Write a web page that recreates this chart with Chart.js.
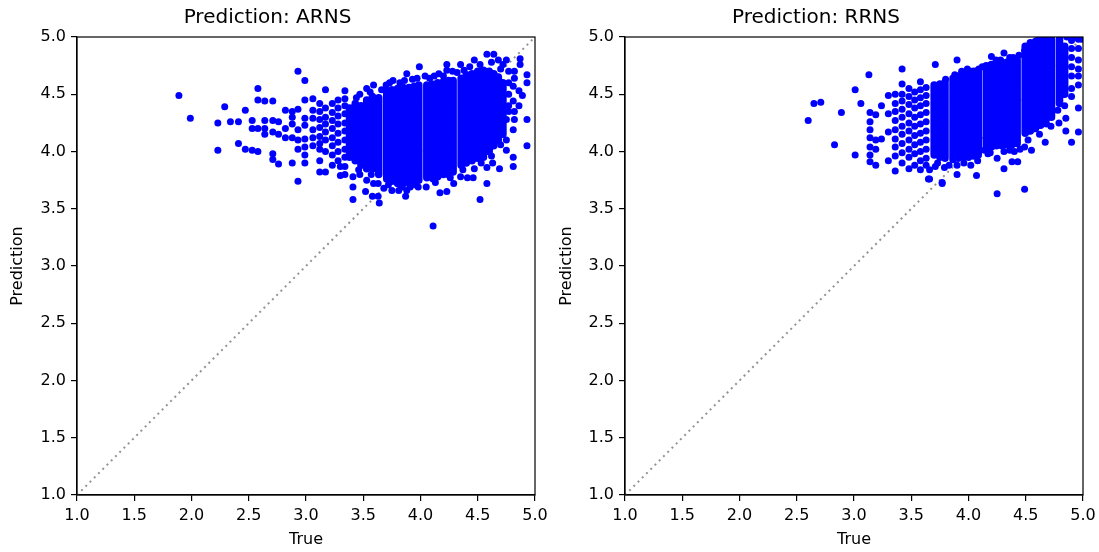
<!DOCTYPE html>
<html>
<head>
<meta charset="utf-8">
<title>Prediction scatter</title>
<script src="https://cdn.jsdelivr.net/npm/chart.js@4"></script>
<style>
	body { margin: 0; background: #fff; }
	.box { position: absolute; top: 0; }
	#leftBox { left: 0; }
	#rightBox { left: 549px; }
</style>
</head>
<body>
<div class="box" id="leftBox"><canvas id="arnsChart" width="549" height="552"></canvas></div>
<div class="box" id="rightBox"><canvas id="rrnsChart" width="550" height="552"></canvas></div>
<script>
// ---- data ----
const axisTicks = [1.0, 1.5, 2.0, 2.5, 3.0, 3.5, 4.0, 4.5, 5.0];
const diagonal = [[1, 1], [5, 5]];

// ARNS: solid columns where the dots pile up (true value, lowest, highest prediction)
const arnsColumnX    = [3.38,3.43,3.48,3.53,3.58,3.635, 3.705,3.75,3.80,3.85,3.90,3.945,3.985, 4.055,4.10,4.15,4.20,4.245,4.285, 4.355,4.40,4.45,4.50,4.55,4.60,4.64,4.68,4.72];
const arnsColumnLow  = [3.95,3.92,3.88,3.85,3.85,3.80, 3.76,3.74,3.72,3.72,3.72,3.74,3.75, 3.77,3.77,3.78,3.80,3.80,3.82, 3.88,3.90,3.92,3.94,3.95,4.00,4.05,4.10,4.15];
const arnsColumnHigh = [4.38,4.42,4.40,4.45,4.48,4.47, 4.53,4.54,4.55,4.56,4.56,4.57,4.58, 4.58,4.59,4.60,4.61,4.62,4.62, 4.64,4.67,4.68,4.70,4.71,4.70,4.68,4.65,4.60];
// ARNS: single dots (true, prediction)
const arnsScatter = [
	[1.89,4.49],[1.99,4.29],[2.23,4.25],[2.23,4.01],[2.29,4.39],[2.34,4.26],[2.41,4.26],[2.41,4.07],[2.47,4.36],[2.47,4.02],
	[2.53,4.27],[2.53,4.20],[2.53,4.01],[2.58,4.55],[2.58,4.45],[2.58,4.20],[2.58,4.00],[2.64,4.44],[2.64,4.27],[2.64,4.20],
	[2.64,4.15],[2.71,4.44],[2.71,4.27],[2.71,4.17],[2.71,3.98],[2.71,3.93],[2.76,4.26],[2.76,4.15],[2.76,3.89],[2.82,4.36],
	[2.82,4.20],[2.82,4.12],[2.88,4.35],[2.88,4.30],[2.88,4.24],[2.88,4.12],[2.88,3.90],[2.93,4.70],[2.93,4.37],[2.93,4.19],
	[2.93,4.10],[2.93,4.02],[2.93,3.74],[2.99,4.62],[2.99,4.45],[2.99,4.29],[2.99,4.23],[2.99,4.11],[2.99,4.04],[2.99,3.97],
	[2.99,3.90],[3.06,4.46],[3.06,4.29],[3.06,4.19],[3.06,4.05],[3.06,4.36],[3.06,4.12],[3.12,4.42],[3.12,4.35],[3.12,4.28],
	[3.12,4.21],[3.12,4.13],[3.12,4.02],[3.12,3.92],[3.12,3.82],[3.12,4.07],[3.17,4.54],[3.17,4.38],[3.17,4.30],[3.17,4.24],
	[3.17,4.17],[3.17,4.10],[3.17,4.00],[3.17,3.82],[3.23,4.42],[3.23,4.34],[3.23,4.27],[3.23,4.20],[3.23,4.12],[3.23,4.05],
	[3.23,3.97],[3.23,3.88],[3.28,4.45],[3.28,4.38],[3.28,4.31],[3.28,4.24],[3.28,4.16],[3.28,4.08],[3.28,4.00],[3.28,3.92],
	[3.30,3.87],[3.30,3.79],[3.34,4.53],[3.34,4.46],[3.34,4.40],[3.34,4.33],[3.34,4.25],[3.34,4.18],[3.34,4.10],[3.34,4.02],
	[3.34,3.95],[3.34,3.87],[3.34,3.80],[3.41,3.69],[3.41,3.58],[3.41,3.78],[3.47,3.80],[3.52,3.65],[3.53,3.75],[3.58,3.61],
	[3.59,3.72],[3.63,3.61],[3.64,3.55],[3.63,3.72],[3.68,3.68],[3.75,3.66],[3.81,3.66],[3.87,3.61],[3.88,3.66],[3.91,3.69],
	[3.98,3.69],[4.05,3.69],[4.11,3.76],[4.11,3.35],[4.17,3.64],[4.23,3.65],[4.29,3.72],[4.35,3.78],[4.41,3.77],[4.46,3.77],
	[4.47,3.85],[4.52,3.58],[4.58,3.72],[4.58,3.86],[4.63,3.90],[4.69,3.85],[4.75,4.01],[4.75,4.10],[4.75,4.28],[4.69,4.19],
	[4.81,4.19],[4.81,3.87],[4.81,3.95],[4.93,4.05],[4.93,4.28],[4.93,4.60],[4.93,4.67],[4.89,4.49],[4.81,4.57],[4.81,4.44],
	[4.87,4.81],[4.87,4.76],[4.75,4.80],[4.64,4.85],[4.58,4.85],[4.47,4.80],[4.35,4.76],[4.23,4.76],[4.23,4.71],[3.99,4.74],
	[3.88,4.68],[3.76,4.62],[3.59,4.58],[3.53,4.55],[3.47,4.50],[4.77,4.70],[4.77,4.60],[4.77,4.50],[4.77,4.40],[4.77,4.35],
	[4.82,4.70],[4.82,4.64],[4.82,4.35],[4.82,4.28],[4.86,4.53],[4.86,4.40],[4.72,4.76],[4.70,4.72],[4.68,4.80],[4.62,4.78],
	[4.52,4.76],[4.43,4.74],[4.28,4.70],[4.12,4.66],[4.04,4.66],[3.93,4.63],[3.82,4.60],[3.70,4.58],[4.16,4.68],[3.44,4.47],
	[3.56,4.52],[3.66,4.54],[3.73,4.60],[3.86,4.62],[3.97,4.64],[4.08,4.64],[4.20,4.66],[4.32,4.69],[4.38,4.71],[3.46,3.84],
	[3.57,3.80],[3.72,3.71],[3.84,3.69],[3.95,3.71],[4.13,3.73],[4.26,3.77],[4.37,3.84],[4.53,3.90],[4.62,3.96],[4.70,4.06]
];

// RRNS: solid columns
const rrnsColumnX    = [3.70,3.75,3.795, 3.865,3.91,3.955,4.00,4.045,4.085, 4.155,4.20,4.245,4.29,4.335,4.38,4.425, 4.495,4.54,4.585,4.63,4.675,4.725, 4.795,4.84];
const rrnsColumnLow  = [3.97,3.95,3.94, 3.93,3.94,3.95,3.95,3.96,3.97, 4.03,4.04,4.05,4.05,4.06,4.06,4.07, 4.16,4.18,4.20,4.23,4.26,4.30, 4.42,4.50];
const rrnsColumnHigh = [4.58,4.59,4.60, 4.64,4.66,4.68,4.69,4.70,4.71, 4.75,4.76,4.77,4.78,4.78,4.79,4.80, 4.92,4.95,4.96,4.97,4.98,4.98, 4.98,4.92];
// RRNS: single dots
const rrnsScatter = [
	[2.60,4.27],[2.65,4.42],[2.71,4.43],[2.83,4.06],[2.89,4.34],[3.01,3.97],[3.01,4.54],[3.06,4.42],[3.13,4.67],[3.14,4.34],
	[3.14,4.26],[3.14,4.19],[3.14,4.12],[3.14,4.04],[3.14,3.97],[3.14,3.91],[3.19,4.32],[3.19,4.10],[3.19,3.88],[3.19,4.02],
	[3.24,4.40],[3.24,4.11],[3.30,4.49],[3.30,4.33],[3.30,4.17],[3.30,3.92],[3.36,3.83],[3.36,4.50],[3.36,4.04],[3.42,4.59],
	[3.42,4.72],[3.36,4.42],[3.36,4.35],[3.36,4.27],[3.36,4.19],[3.36,4.11],[3.36,3.96],[3.42,4.50],[3.42,4.44],[3.42,4.37],
	[3.42,4.30],[3.42,4.22],[3.42,4.15],[3.42,4.07],[3.42,3.99],[3.42,3.90],[3.48,4.55],[3.48,4.48],[3.48,4.41],[3.48,4.33],
	[3.48,4.25],[3.48,4.18],[3.48,4.10],[3.48,4.02],[3.48,3.95],[3.48,3.85],[3.53,4.52],[3.53,4.45],[3.53,4.38],[3.53,4.30],
	[3.53,4.22],[3.53,4.14],[3.53,4.06],[3.53,3.98],[3.53,3.88],[3.58,4.61],[3.58,4.54],[3.58,4.47],[3.58,4.40],[3.58,4.32],
	[3.58,4.24],[3.58,4.16],[3.58,4.08],[3.58,4.00],[3.58,3.92],[3.58,3.84],[3.63,4.56],[3.63,4.49],[3.63,4.42],[3.63,4.34],
	[3.63,4.26],[3.63,4.18],[3.63,4.10],[3.63,4.02],[3.63,3.94],[3.63,3.88],[3.66,3.84],[3.66,3.76],[3.71,4.76],[3.77,3.72],
	[3.71,3.87],[3.83,3.88],[3.90,3.80],[3.90,3.88],[3.90,4.80],[4.20,4.83],[4.31,4.86],[4.09,4.72],[3.99,4.72],[4.39,4.82],
	[4.49,4.88],[4.60,4.97],[4.02,3.88],[4.07,3.79],[4.08,3.92],[4.14,4.01],[4.25,3.94],[4.31,3.85],[4.31,4.00],[4.38,3.91],
	[4.43,3.91],[4.49,4.04],[4.55,4.01],[4.67,4.08],[4.79,4.25],[4.85,4.18],[4.85,4.29],[4.90,4.08],[4.96,4.17],[4.96,4.38],
	[4.96,4.58],[4.25,3.63],[4.49,3.67],[3.77,3.73],[3.65,3.76],[4.90,4.97],[4.90,4.90],[4.90,4.82],[4.90,4.74],[4.90,4.66],
	[4.90,4.55],[4.90,4.48],[4.96,4.98],[4.96,4.90],[4.96,4.80],[4.96,4.72],[4.96,4.66],[4.84,4.40],[4.78,4.36],[4.66,5.00],
	[4.72,5.00],[4.80,5.00],[4.86,5.00],[4.93,5.00],[4.99,4.98],[3.73,3.90],[3.79,3.86],[4.17,3.98],[4.40,4.00],[4.52,4.10],
	[4.62,4.15],[4.72,4.22],[4.12,4.74],[4.02,4.70],[3.80,4.63],[3.88,4.67],[4.44,4.84],[4.28,4.80],[3.94,4.70],[4.24,4.80],
	[4.36,4.82],[4.58,4.20],[4.68,4.24],[3.96,3.90],[4.19,3.99],[4.36,4.01],[4.45,4.02]
];

const dotColor = '#0000ff';
const fontFamily = "'DejaVu Sans', sans-serif";

// full black box round the plot area, like matplotlib spines
const frame = {
	id: 'frame',
	afterDatasetsDraw(chart){
		const {ctx, chartArea: a} = chart;
		ctx.save();
		ctx.strokeStyle = '#000';
		ctx.lineWidth = 1.2;
		ctx.strokeRect(a.left, a.top, a.right - a.left, a.bottom - a.top);
		ctx.restore();
	}
};

function toPoints(pairs){
	return pairs.map(p => ({x: p[0], y: p[1]}));
}

// one segment per column, broken by null gaps
function toColumns(xs, lows, highs){
	let out = [];
	xs.forEach((x, i)=>{
		out.push({x: x, y: lows[i]}, {x: x, y: highs[i]}, {x: x, y: null});
	});
	return out;
}

function getChartData(scatter, colX, colLow, colHigh){
	return {
		datasets: [
			{
				data: toPoints(scatter),
				pointRadius: 3.5,
				pointBorderWidth: 0,
				pointBackgroundColor: dotColor,
				borderColor: dotColor,
				clip: 0,
				order: 1
			},{
				data: toColumns(colX, colLow, colHigh),
				showLine: true,
				spanGaps: false,
				borderColor: dotColor,
				borderWidth: 7.5,
				borderCapStyle: 'round',
				pointRadius: 0,
				clip: 0,
				order: 2
			},{
				data: toPoints(diagonal),
				showLine: true,
				borderColor: 'rgba(128,128,128,0.85)',
				borderWidth: 2,
				borderDash: [2, 4],
				pointRadius: 0,
				clip: 0,
				order: 3
			}
		]
	}
}

function axisOptions(label, horizontal, yWidth){
	return {
		type: 'linear',
		min: 1,
		max: 5,
		afterBuildTicks: s => { s.ticks = axisTicks.map(v => ({value: v})); },
		ticks: {
			callback: v => v.toFixed(1),
			color: '#000',
			padding: 5,
			autoSkip: false,
			maxRotation: 0,
			font: {family: fontFamily, size: 16}
		},
		grid: {drawOnChartArea: false, drawTicks: true, tickLength: 6, color: '#000', lineWidth: 1.2},
		border: {display: true, color: '#000', width: 1.2},
		title: {
			display: true,
			text: label,
			color: '#000',
			font: {family: fontFamily, size: 16},
			padding: horizontal ? {top: 0, bottom: 2.4} : {top: 8.4, bottom: 0}
		},
		afterFit: s => {
			if (horizontal) s.height = 57;
			else s.width = yWidth;
			s.paddingLeft = 0; s.paddingRight = 0;
			s.paddingTop = 0; s.paddingBottom = 0;
		}
	}
}

function getChartOptions(title, yWidth, padRight){
	return {
		responsive: false,
		animation: false,
		events: [],
		layout: {padding: {left: 0, top: 0, right: padRight, bottom: 0}},
		plugins: {
			legend: {display: false},
			tooltip: {enabled: false},
			title: {
				display: true,
				text: title,
				color: '#000',
				font: {family: fontFamily, size: 20, weight: 'normal'},
				padding: {top: 6, bottom: 7}
			}
		},
		scales: {
			x: axisOptions('True', true),
			y: axisOptions('Prediction', false, yWidth)
		}
	}
}

function chartIt(id, title, yWidth, padRight, scatter, colX, colLow, colHigh){
	const ctx = document.getElementById(id);
	return new Chart(ctx, {
		type: 'scatter',
		data: getChartData(scatter, colX, colLow, colHigh),
		options: getChartOptions(title, yWidth, padRight),
		plugins: [frame]
	});
}

chartIt('arnsChart', 'Prediction: ARNS', 77, 14, arnsScatter, arnsColumnX, arnsColumnLow, arnsColumnHigh);
chartIt('rrnsChart', 'Prediction: RRNS', 76, 16, rrnsScatter, rrnsColumnX, rrnsColumnLow, rrnsColumnHigh);
</script>
</body>
</html>
